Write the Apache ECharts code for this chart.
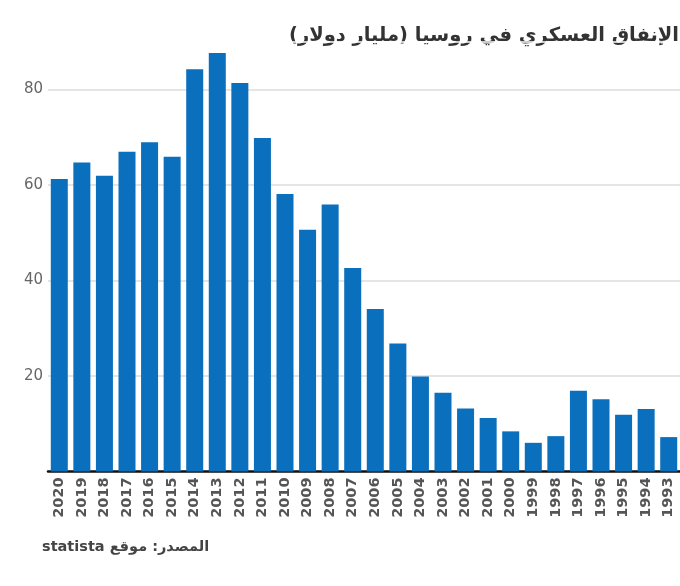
<!DOCTYPE html>
<html>
<head>
<meta charset="utf-8">
<script src="https://cdn.jsdelivr.net/npm/echarts@6/dist/echarts.min.js"></script>
<style>html,body{margin:0;padding:0;background:#fff}#c{width:680px;height:586px}</style>
</head>
<body>
<div id="c"></div>
<script>
const years = ['2020','2019','2018','2017','2016','2015','2014','2013','2012','2011','2010','2009','2008','2007','2006','2005','2004','2003','2002','2001','2000','1999','1998','1997','1996','1995','1994','1993'];
const spending = [61.2,64.7,61.9,66.9,68.9,65.9,84.2,87.6,81.3,69.8,58.1,50.6,55.9,42.6,34.0,26.8,19.9,16.5,13.2,11.2,8.4,6.0,7.4,16.9,15.1,11.9,13.1,7.2];
const yTicks = [20,40,60,80];
const titleText = 'الإنفاق العسكري في روسيا (مليار دولار)';
const sourceText = 'المصدر: موقع statista';

const RLE = '\u202B', PDF = '\u202C';
const chart = echarts.init(document.getElementById('c'));
chart.setOption({
  animation: false,
  backgroundColor: '#fff',
  grid: { left: 48, right: -4, top: 41.5, bottom: 114.5, containLabel: false },
  graphic: [
    { type: 'text', right: 1, top: 26, style: { text: RLE + titleText + PDF, font: 'bold 19.5px "DejaVu Sans"', fill: '#333', textAlign: 'right' } },
    { type: 'text', left: 42, top: 540, style: { text: RLE + sourceText + PDF, font: 'bold 14.5px "DejaVu Sans"', fill: '#444' } }
  ],
  xAxis: {
    type: 'category',
    data: years,
    axisLine: { lineStyle: { color: '#111', width: 2.5 } },
    axisTick: { show: false },
    axisLabel: { rotate: 90, margin: 6, color: '#555', fontFamily: 'DejaVu Sans', fontWeight: 'bold', fontSize: 14.5 }
  },
  yAxis: {
    type: 'value',
    min: 0, max: 90, interval: 20,
    axisLine: { show: false },
    axisTick: { show: false },
    axisLabel: {
      margin: 5, color: '#666', fontFamily: 'DejaVu Sans', fontSize: 15,
      formatter: v => yTicks.indexOf(v) >= 0 ? String(v) : ''
    },
    splitLine: { lineStyle: { color: ['#fff', '#ddd', '#ddd', '#ddd', '#ddd', '#fff'], width: 1.5 } }
  },
  series: [{
    type: 'bar',
    data: spending,
    barWidth: 17,
    itemStyle: { color: '#0a6fbd' }
  }]
});
</script>
</body>
</html>
